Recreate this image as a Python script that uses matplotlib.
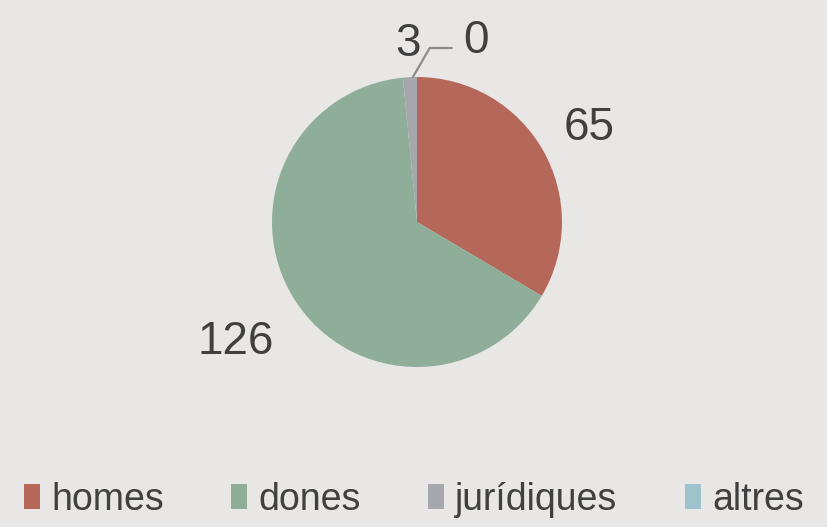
import numpy as np
import matplotlib.pyplot as plt
from matplotlib.patches import Patch

categories = ["homes", "dones", "jurídiques", "altres"]
values = [65, 126, 3, 0]
colors = ["#b5685a", "#8fae9a", "#a5a7ac", "#9dc3cc"]
label_dist = [1.37, 1.48, 1.26, 1.26]

bg = "#e8e7e5"
txt = "#404040"
plt.rcParams['font.family'] = ['Liberation Sans', 'DejaVu Sans']

fig = plt.figure(figsize=(8.28, 5.27), dpi=100, facecolor=bg)
ax = fig.add_axes([0.3285, 0.3036, 0.3502, 0.5503])
ax.set_facecolor(bg)

wedges, _ = ax.pie(values, colors=colors, startangle=90, counterclock=False,
                   radius=1, wedgeprops=dict(linewidth=0))
ax.set_xlim(-1, 1)
ax.set_ylim(-1, 1)
ax.set_aspect('auto')
ax.axis('off')

dy = -0.03  # digits sit a little high when centred
for w, v, d in zip(wedges, values, label_dist):
    mid = np.deg2rad((w.theta1 + w.theta2) / 2)
    if v == 0:
        # zero-size slice: label pushed right, with a leader line
        anchor = np.deg2rad(w.theta1 + 1.6)
        lx, ly = 0.41, d + 0.02
        ax.annotate("", xy=(np.cos(anchor), np.sin(anchor)), xytext=(lx - 0.17, ly - 0.08),
                    annotation_clip=False,
                    arrowprops=dict(arrowstyle='-', color='#8c8c8c', lw=1.6,
                                    shrinkA=0, shrinkB=0,
                                    connectionstyle="angle,angleA=0,angleB=60,rad=0"))
        ax.text(lx, ly + dy, str(v), ha='center', va='center', fontsize=33, color=txt,
                clip_on=False)
    else:
        ax.text(d * np.cos(mid), d * np.sin(mid) + dy, str(v), ha='center', va='center',
                fontsize=33, color=txt, clip_on=False)

handles = [Patch(facecolor=c, edgecolor='none') for c in colors]
fig.legend(handles, categories, loc='center', bbox_to_anchor=(0.5, 0.052), ncol=4,
           frameon=False, fontsize=27, labelcolor=txt, handlelength=0.42,
           handleheight=0.62, handletextpad=0.3, columnspacing=1.8)

fig.savefig("out.png", dpi=100, facecolor=bg)
